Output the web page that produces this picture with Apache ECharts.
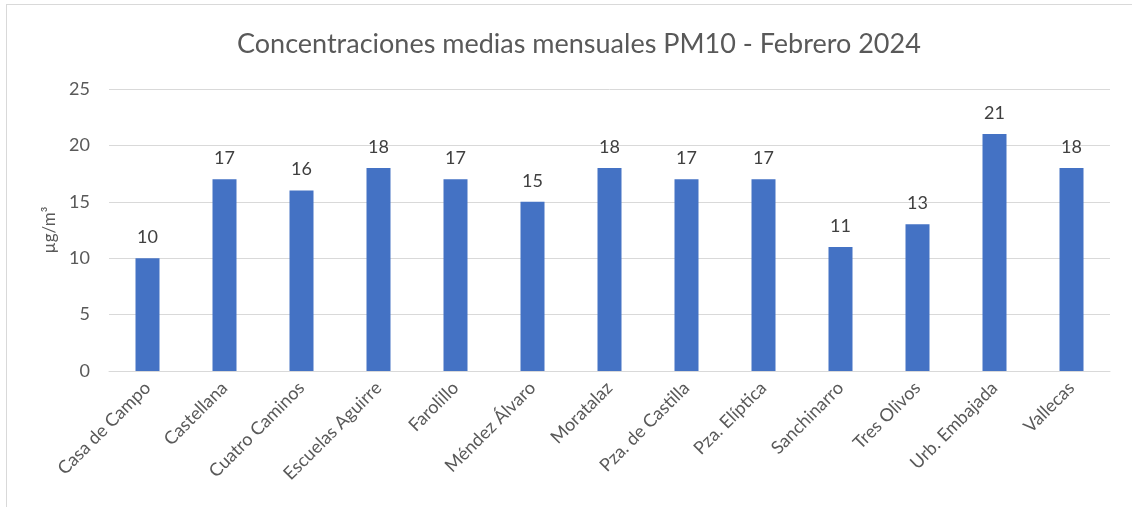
<!DOCTYPE html>
<html>
<head>
<meta charset="utf-8">
<script src="https://cdn.jsdelivr.net/npm/echarts@6/dist/echarts.min.js"></script>
<style>
    html, body { margin: 0; padding: 0; background: #fff; }
    #frame {
        position: absolute; left: 6px; top: 4px; width: 1140px; height: 520px;
        border: 1px solid #d9d9d9; box-sizing: border-box;
    }
    #chart { position: absolute; left: 0; top: 0; width: 1132px; height: 507px; }
</style>
</head>
<body>
<div id="frame"></div>
<div id="chart"></div>
<script>
    // estaciones y valores medios PM10
    const estaciones = ['Casa de Campo', 'Castellana', 'Cuatro Caminos', 'Escuelas Aguirre', 'Farolillo',
        'Méndez Álvaro', 'Moratalaz', 'Pza. de Castilla', 'Pza. Elíptica', 'Sanchinarro',
        'Tres Olivos', 'Urb. Embajada', 'Vallecas'];
    const valores = [10, 17, 16, 18, 17, 15, 18, 17, 17, 11, 13, 21, 18];
    const yTicks = [0, 5, 10, 15, 20, 25];

    let chart = echarts.init(document.getElementById('chart'));
    chart.setOption({
        textStyle: { fontFamily: 'Lato' },
        title: {
            text: 'Concentraciones medias mensuales PM10 - Febrero 2024',
            left: 232,
            top: 26,
            textStyle: { fontFamily: 'Lato', fontSize: 27, fontWeight: 'normal', color: '#595959' }
        },
        grid: { left: 109, right: 22, top: 89, bottom: 136 },
        xAxis: {
            type: 'category',
            data: estaciones,
            axisLine: { lineStyle: { color: '#d9d9d9', width: 1 } },
            axisTick: { show: false },
            axisLabel: { rotate: 45, color: '#595959', fontSize: 18, margin: 14, interval: 0 }
        },
        yAxis: {
            type: 'value',
            min: yTicks[0],
            max: yTicks[yTicks.length - 1],
            interval: 5,
            name: 'µg/m³',
            nameLocation: 'middle',
            nameGap: 44,
            nameRotate: 90,
            nameTextStyle: { color: '#595959', fontSize: 17 },
            axisLine: { show: false },
            axisTick: { show: false },
            splitLine: { lineStyle: { color: '#d9d9d9', width: 1 } },
            axisLabel: { color: '#595959', fontSize: 18, margin: 19 }
        },
        series: [{
            type: 'bar',
            data: valores,
            barWidth: 24,
            itemStyle: { color: '#4472c4' },
            label: { show: true, position: 'top', distance: 12, color: '#404040', fontSize: 18 }
        }]
    });
</script>
</body>
</html>
